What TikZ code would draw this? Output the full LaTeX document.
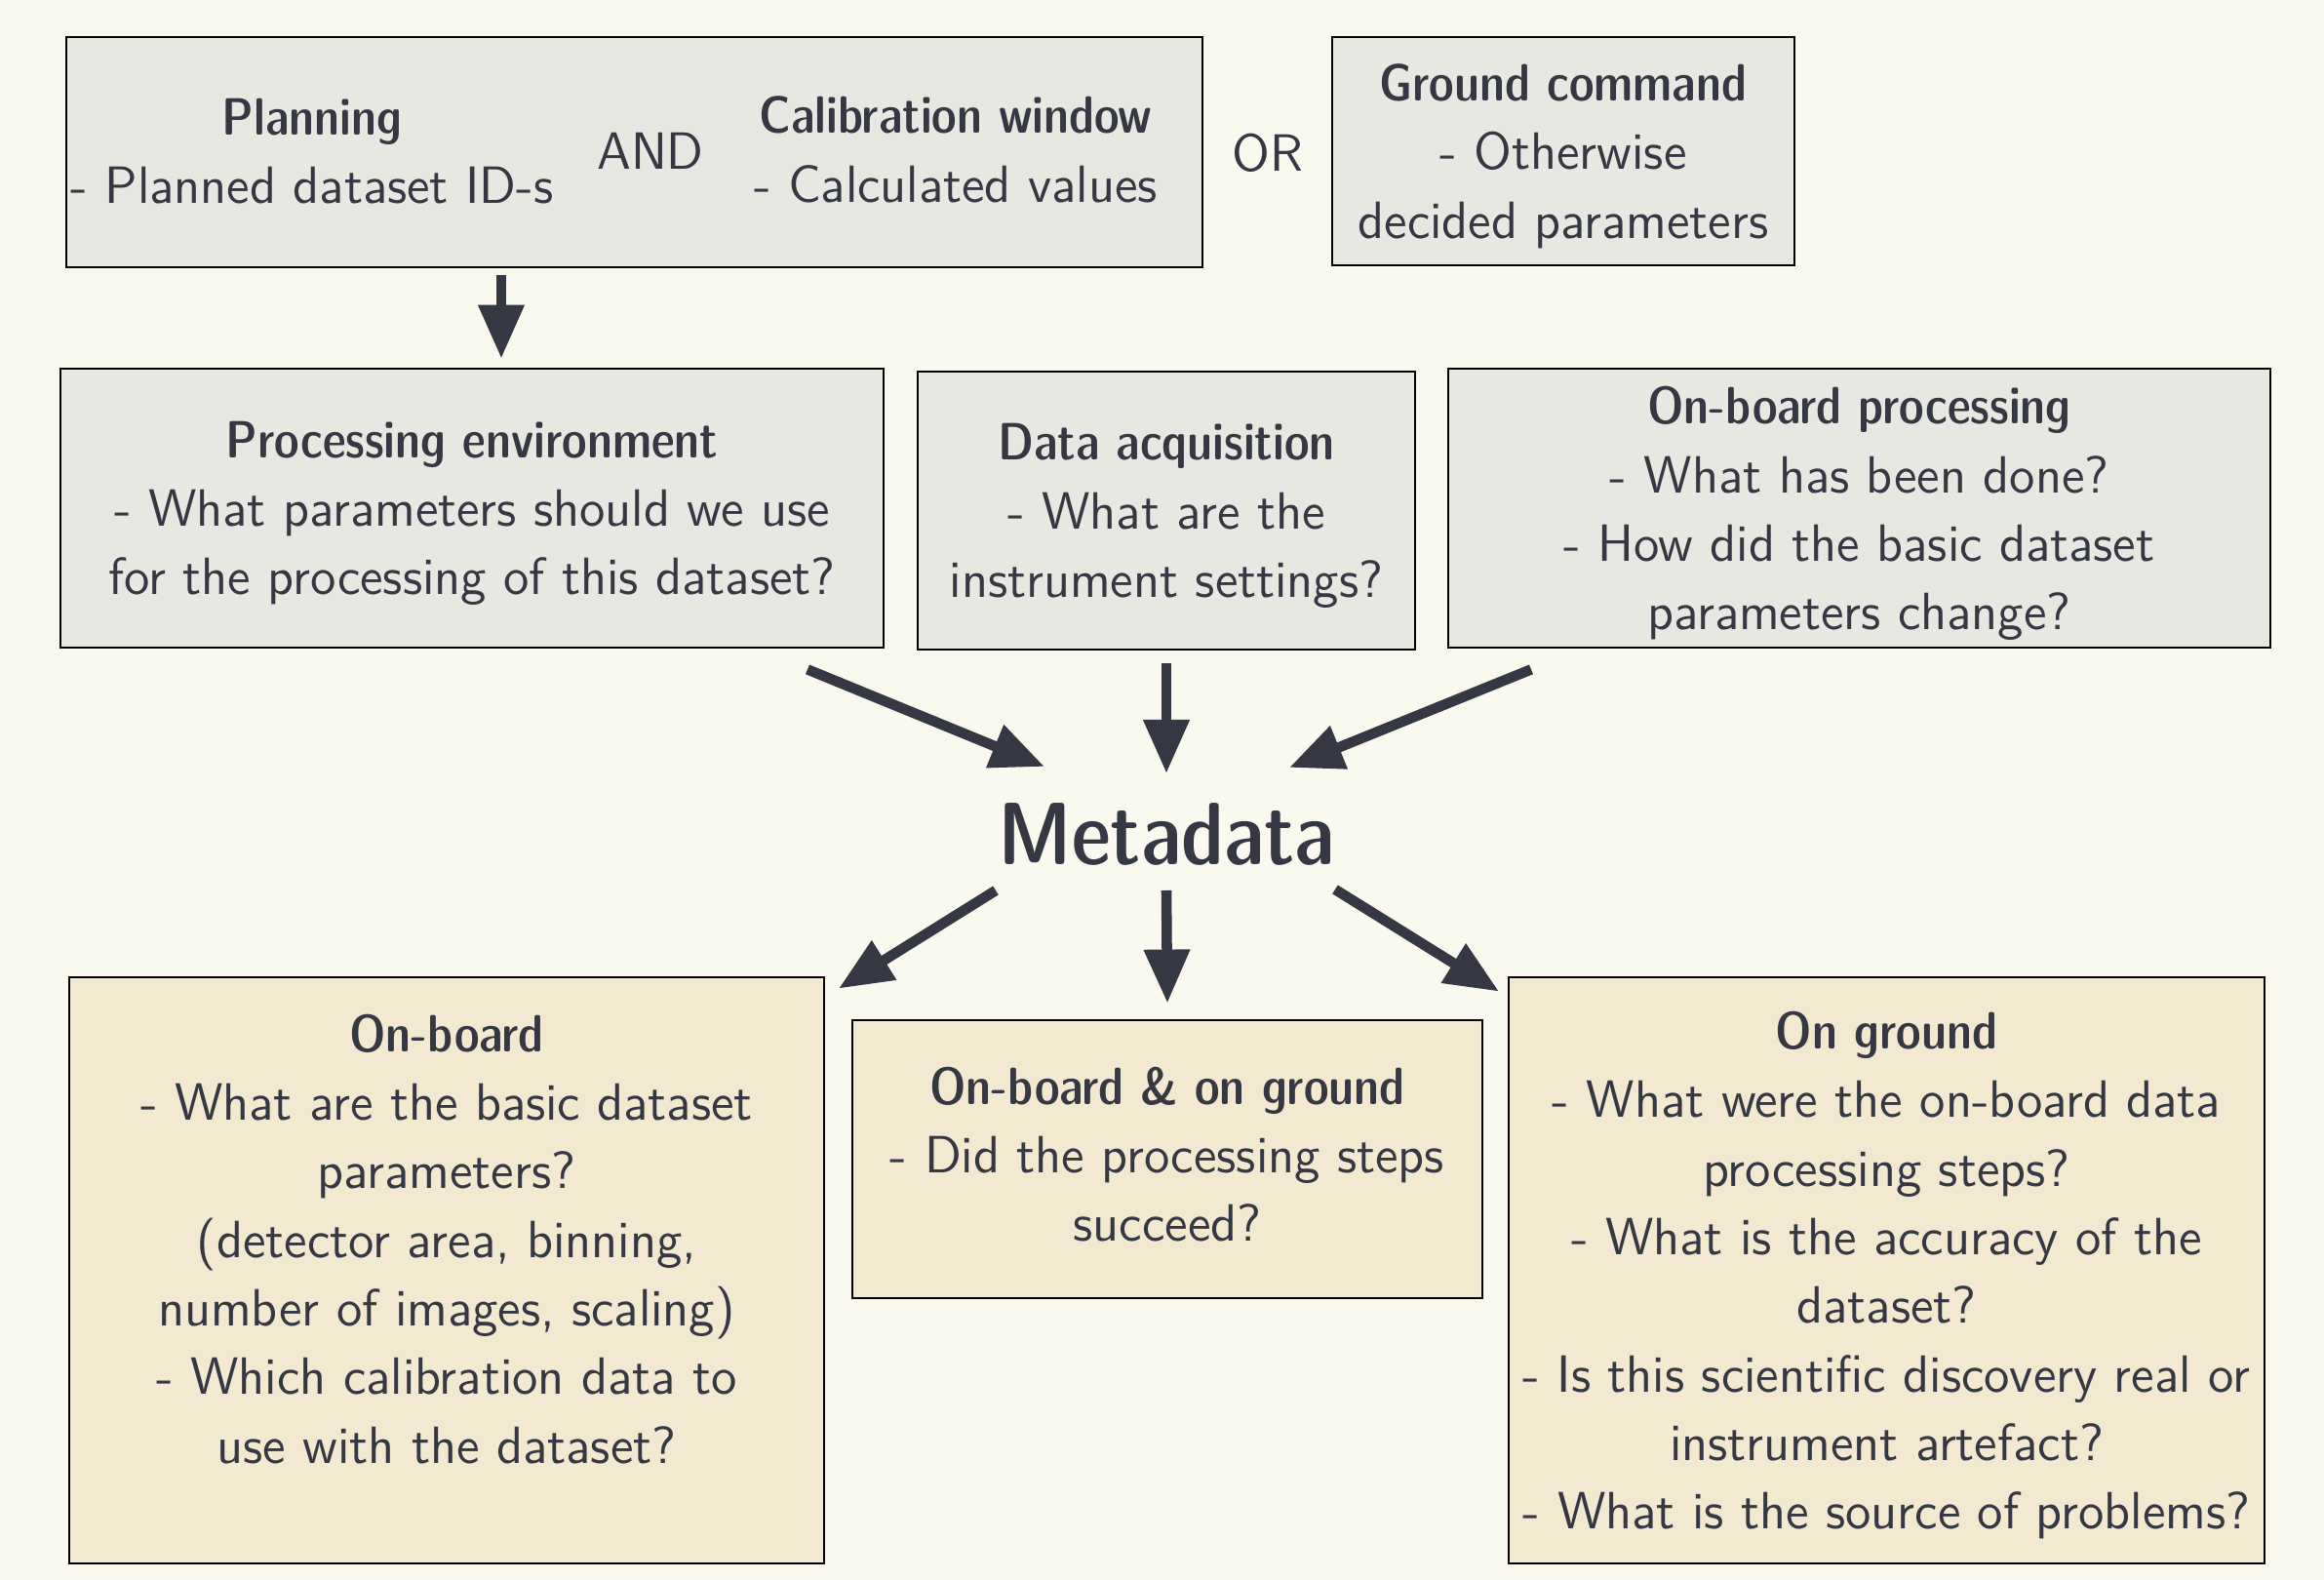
\documentclass[tikz,border=0pt]{standalone}
\usepackage{tikz}
\usetikzlibrary{arrows.meta}
\renewcommand{\familydefault}{\sfdefault}
\DeclareFontSeriesDefault[sf]{bf}{sbc}
\definecolor{bgcream}{HTML}{F9F9EF}
\definecolor{greybox}{HTML}{E8E8E3}
\definecolor{tanbox}{HTML}{F3E9D0}
\definecolor{ink}{HTML}{353842}
\begin{document}
\begin{tikzpicture}[
  every node/.style={text=ink, font=\fontsize{15.3}{20}\selectfont, align=center},
  greyframe/.style={draw=black, line width=0.8pt, fill=greybox, inner sep=0pt, text depth=0cm},
  tanframe/.style={draw=black, line width=0.8pt, fill=tanbox, inner sep=0pt, text depth=0cm},
  bigarrow/.style={draw=ink, line width=3pt, -{Triangle[length=0.55cm, width=0.45cm]}}
]
\fill[bgcream] (0,0) rectangle (23.83,16.20);
\useasboundingbox (0,0) rectangle (23.83,16.20);

% inputs
\node[greyframe, minimum width=11.65cm, minimum height=2.36cm] (topbox) at (6.505,14.64) {};
\node (plan) at (3.20,14.65) {\textbf{Planning}\\- Planned dataset ID-s};
\node (andtxt) at (6.67,14.65) {AND};
\node (calib) at (9.80,14.665) {\textbf{Calibration window}\\- Calculated values};
\node (ortxt) at (13.00,14.63) {OR};
\node[greyframe, minimum width=4.74cm, minimum height=2.34cm] (ground) at (16.03,14.65) {\textbf{Ground command}\\- Otherwise\\decided parameters};

% sources of metadata
\node[greyframe, minimum width=8.44cm, minimum height=2.86cm] (procenv) at (4.84,10.99) {\textbf{Processing environment}\\- What parameters should we use\\for the processing of this dataset?};
\node[greyframe, minimum width=5.10cm, minimum height=2.85cm] (dataacq) at (11.96,10.965) {\textbf{Data acquisition}\\- What are the\\instrument settings?};
\node[greyframe, minimum width=8.43cm, minimum height=2.86cm] (obproc) at (19.065,10.99) {\textbf{On-board processing}\\- What has been done?\\- How did the basic dataset\\parameters change?};

\node[font=\fontsize{25.8}{30}\selectfont\bfseries] (meta) at (11.96,7.64) {Metadata};

% uses of metadata
\node[tanframe, minimum width=7.74cm, minimum height=6.01cm] (onboard) at (4.58,3.175) {};
\node[anchor=north] (onboardtxt) at ([yshift=-0.27cm]onboard.north) {\textbf{On-board}\\- What are the basic dataset\\parameters?\\(detector area, binning,\\number of images, scaling)\\- Which calibration data to\\use with the dataset?};
\node[tanframe, minimum width=6.46cm, minimum height=2.85cm, text depth=0.1cm] (both) at (11.97,4.315) {\textbf{On-board \& on ground}\\- Did the processing steps\\succeed?};
\node[tanframe, minimum width=7.75cm, minimum height=6.01cm] (onground) at (19.345,3.175) {\textbf{On ground}\\- What were the on-board data\\processing steps?\\- What is the accuracy of the\\dataset?\\- Is this scientific discovery real or\\instrument artefact?\\- What is the source of problems?};

\draw[bigarrow] ([shift={(-1.365,-0.07)}]topbox.south) -- ([shift={(0.30,0.09)}]procenv.north);
\draw[bigarrow] ([shift={(3.44,-0.21)}]procenv.south) -- ([shift={(-1.25,0.70)}]meta.center);
\draw[bigarrow] ([shift={(0,-0.13)}]dataacq.south) -- ([shift={(0,0.63)}]meta.center);
\draw[bigarrow] ([shift={(-3.365,-0.21)}]obproc.south) -- ([shift={(1.26,0.69)}]meta.center);
\draw[bigarrow] ([shift={(-1.75,-0.57)}]meta.center) -- ([shift={(4.02,-0.13)}]onboard.north);
\draw[bigarrow] ([shift={(0,-0.57)}]meta.center) -- ([shift={(0,0.16)}]both.north);
\draw[bigarrow] ([shift={(1.73,-0.56)}]meta.center) -- ([shift={(-3.975,-0.16)}]onground.north);
\end{tikzpicture}
\end{document}
